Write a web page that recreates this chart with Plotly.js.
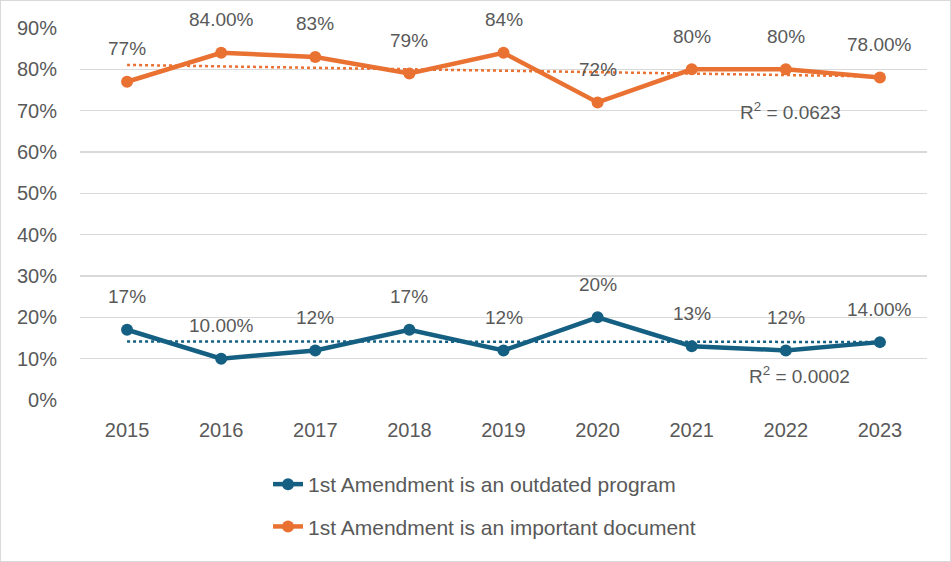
<!DOCTYPE html>
<html>
<head>
<meta charset="utf-8">
<script src="https://cdn.plot.ly/plotly-3.0.1.min.js"></script>
<style>
html,body{margin:0;padding:0;background:#fff;}
#wrap{position:relative;width:951px;height:562px;overflow:hidden;}
#frame{position:absolute;left:0;top:0;width:951px;height:562px;box-sizing:border-box;border:1px solid #D9D9D9;pointer-events:none;}
</style>
</head>
<body>
<div id="wrap"><div id="chart"></div><div id="frame"></div></div>
<script>
const years = ['2015','2016','2017','2018','2019','2020','2021','2022','2023'];
const outdated = [0.17,0.10,0.12,0.17,0.12,0.20,0.13,0.12,0.14];
const important = [0.77,0.84,0.83,0.79,0.84,0.72,0.80,0.80,0.78];
const outdatedLabels = ['17%','10.00%','12%','17%','12%','20%','13%','12%','14.00%'];
const importantLabels = ['77%','84.00%','83%','79%','84%','72%','80%','80%','78.00%'];
const yTickVals = [0,0.1,0.2,0.3,0.4,0.5,0.6,0.7,0.8,0.9];
const yTickText = ['0%','10%','20%','30%','40%','50%','60%','70%','80%','90%'];
const names = ['1st Amendment is an outdated program','1st Amendment is an important document'];

const BLUE = '#156082', ORANGE = '#E97132', GRAY = '#595959';

function fit(y){
  const n=y.length; const xs=y.map((_,i)=>i);
  const mx=xs.reduce((a,b)=>a+b)/n, my=y.reduce((a,b)=>a+b)/n;
  let sxy=0,sxx=0,syy=0;
  for(let i=0;i<n;i++){sxy+=(xs[i]-mx)*(y[i]-my);sxx+=(xs[i]-mx)**2;syy+=(y[i]-my)**2;}
  const b=sxy/sxx, a=my-b*mx;
  return {y0:a, y1:a+b*(n-1), r2:(sxy*sxy)/(sxx*syy)};
}
const fB = fit(outdated), fO = fit(important);

const traces = [
  {x:years,y:outdated,name:names[0],type:'scatter',mode:'lines+markers',
   line:{color:BLUE,width:4.5},marker:{color:BLUE,size:12},legendgroup:'a'},
  {x:years,y:important,name:names[1],type:'scatter',mode:'lines+markers',
   line:{color:ORANGE,width:4.5},marker:{color:ORANGE,size:12},legendgroup:'b'},
  {x:[years[0],years[years.length-1]],y:[fB.y0,fB.y1],type:'scatter',mode:'lines',
   line:{color:BLUE,width:2.5,dash:'dot'},showlegend:false,hoverinfo:'skip'},
  {x:[years[0],years[years.length-1]],y:[fO.y0,fO.y1],type:'scatter',mode:'lines',
   line:{color:ORANGE,width:2.5,dash:'dot'},showlegend:false,hoverinfo:'skip'}
];

const FAM = '"Liberation Sans", Arial, sans-serif';
const font = {family:FAM, size:19, color:GRAY};
const annotations = [];
years.forEach((yr,i)=>{
  annotations.push({x:i,y:outdated[i],xref:'x',yref:'y',text:outdatedLabels[i],showarrow:false,yshift:33,
    font:{family:FAM,size:19,color:GRAY}});
  annotations.push({x:i,y:important[i],xref:'x',yref:'y',text:importantLabels[i],showarrow:false,yshift:33,
    font:{family:FAM,size:19,color:GRAY}});
});
annotations.push({x:7.05,y:0.70,xref:'x',yref:'y',text:'R<sup>2</sup> = '+fO.r2.toFixed(4),showarrow:false,
  font:{family:FAM,size:19,color:GRAY}});
annotations.push({x:7.15,y:0.06,xref:'x',yref:'y',text:'R<sup>2</sup> = '+fB.r2.toFixed(4),showarrow:false,
  font:{family:FAM,size:19,color:GRAY}});

const layout = {
  width:951,height:562,
  margin:{l:80,r:24,t:28,b:162,autoexpand:false},
  paper_bgcolor:'#fff',plot_bgcolor:'#fff',
  font:font,
  showlegend:true,
  legend:{orientation:'v',x:0.222,xanchor:'left',y:-0.172,yanchor:'top',
    traceorder:'grouped',tracegroupgap:12,font:{family:FAM,size:21,color:GRAY},bgcolor:'rgba(0,0,0,0)'},
  xaxis:{type:'category',range:[-0.5,8.5],showgrid:false,zeroline:false,
    showline:false,ticks:'',tickfont:{family:FAM,size:20,color:GRAY},ticklabelstandoff:16,fixedrange:true},
  yaxis:{range:[0,0.9],tickvals:yTickVals,ticktext:yTickText,showgrid:true,
    gridcolor:'#D9D9D9',gridwidth:1.5,zeroline:false,showline:false,ticks:'',
    tickfont:{family:FAM,size:20,color:GRAY},ticklabelstandoff:22,fixedrange:true},
  annotations:annotations
};

Plotly.newPlot('chart',traces,layout,{displayModeBar:false,staticPlot:true});
</script>
</body>
</html>
